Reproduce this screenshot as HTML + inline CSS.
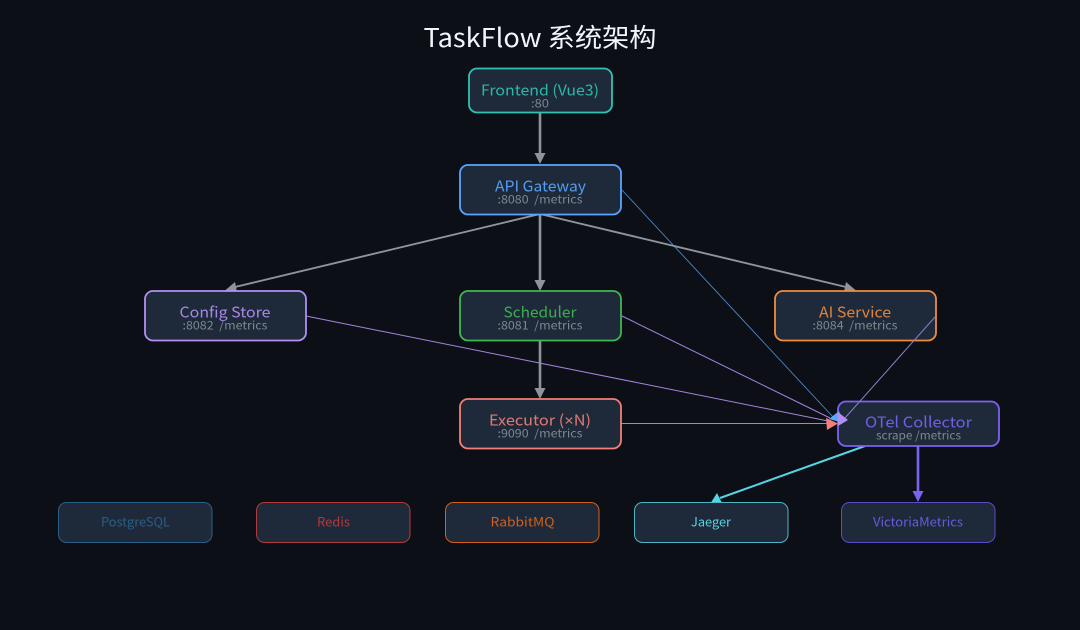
<!DOCTYPE html>
<html>
<head>
<meta charset="utf-8">
<style>
html,body{margin:0;padding:0;background:#0c1016;width:1080px;height:630px;overflow:hidden}
svg{display:block;filter:blur(0.35px)}
text{font-family:"Noto Sans CJK SC","Liberation Sans",sans-serif;text-anchor:middle}
.m{font-size:15px;opacity:.92}
.s{font-size:11.5px;fill:#7f8790}
.b{font-size:12.5px}
</style>
</head>
<body>
<svg width="1080" height="630" viewBox="0 0 1080 630" xmlns="http://www.w3.org/2000/svg">
<rect width="1080" height="630" fill="#0c1016"/>
<text x="540" y="47" font-size="26" fill="#f0f6fc" textLength="233" lengthAdjust="spacingAndGlyphs">TaskFlow 系统架构</text>

<g fill="none">
<line x1="622" y1="190" x2="833" y2="417" stroke="#4a86c8" stroke-width="0.900"/>
<line x1="306" y1="316" x2="828" y2="421" stroke="#a384e0" stroke-width="1"/>
<line x1="622" y1="316" x2="830" y2="418" stroke="#a384e0" stroke-width="1"/>
<line x1="621" y1="423.500" x2="828" y2="423.500" stroke="#e8746e" stroke-width="1"/>
<line x1="540" y1="112" x2="540" y2="155" stroke="#8f949b" stroke-width="2.600"/>
<line x1="540" y1="214" x2="540" y2="281" stroke="#8f949b" stroke-width="2.600"/>
<line x1="540" y1="340" x2="540" y2="389" stroke="#8f949b" stroke-width="2.600"/>
<line x1="540" y1="214" x2="235" y2="287" stroke="#8f949b" stroke-width="1.900"/>
<line x1="540" y1="214" x2="846" y2="287" stroke="#8f949b" stroke-width="1.900"/>
<line x1="865" y1="446" x2="720" y2="498" stroke="#56d4e4" stroke-width="2"/>
<line x1="918" y1="446" x2="918" y2="493" stroke="#7a63f2" stroke-width="2.600"/>
</g>

<polygon points="534.500,153 545.500,153 540,164" fill="#8f949b"/>
<polygon points="534.500,280 545.500,280 540,291" fill="#8f949b"/>
<polygon points="534.500,388 545.500,388 540,399" fill="#8f949b"/>
<polygon points="225,290.500 235,282 237,292" fill="#8f949b"/>
<polygon points="856,290.500 846,282 844,292" fill="#8f949b"/>
<polygon points="711,502.500 717,493 722,503" fill="#56d4e4"/>
<polygon points="912.500,491 923.500,491 918,502" fill="#7a63f2"/>

<g fill="#1e2a3a" stroke-width="1.800">
<rect x="469" y="68.500" width="143" height="44" rx="8" stroke="#2ec4b0"/>
<rect x="460" y="165" width="161" height="49.500" rx="8" stroke="#58a6ff"/>
<rect x="145" y="291" width="161" height="49.500" rx="8" stroke="#b48ef5"/>
<rect x="460" y="291" width="161" height="49.500" rx="8" stroke="#3fb950"/>
<rect x="775" y="291" width="161" height="49.500" rx="8" stroke="#f08c3c"/>
<rect x="460" y="399" width="161" height="49.500" rx="8" stroke="#f47f78"/>
<rect x="838" y="401.500" width="161" height="44.500" rx="8" stroke="#7a63f2"/>
</g>
<g fill="#1e2a3a" stroke-width="1">
<rect x="58.500" y="502.500" width="153.500" height="40" rx="8" stroke="#2a5f87"/>
<rect x="256.500" y="502.500" width="153.500" height="40" rx="8" stroke="#b33a3a"/>
<rect x="445.500" y="502.500" width="153.500" height="40" rx="8" stroke="#d2601a"/>
<rect x="634.500" y="502.500" width="153.500" height="40" rx="8" stroke="#4bb8c8"/>
<rect x="841.500" y="502.500" width="153.500" height="40" rx="8" stroke="#5a4bc8"/>
</g>

<line x1="935" y1="317" x2="845" y2="418" stroke="#8f7cc8" stroke-width="1"/>
<polygon points="826,418 838,423.500 827,430" fill="#f47f78"/>
<polygon points="829,419 839,411 843,423" fill="#58a6ff"/>
<polygon points="838,412 848,420 838,426" fill="#b48ef5"/>

<text class="m" x="540" y="95.500" fill="#2ec4b0" textLength="118" lengthAdjust="spacingAndGlyphs">Frontend (Vue3)</text>
<text class="s" x="540" y="107.500" textLength="18" lengthAdjust="spacingAndGlyphs">:80</text>
<text class="m" x="540.500" y="191.500" fill="#58a6ff" textLength="91" lengthAdjust="spacingAndGlyphs">API Gateway</text>
<text class="s" x="540" y="203.500" textLength="85" lengthAdjust="spacingAndGlyphs" xml:space="preserve">:8080  /metrics</text>
<text class="m" x="225" y="317.500" fill="#b48ef5" textLength="91" lengthAdjust="spacingAndGlyphs">Config Store</text>
<text class="s" x="225" y="329.500" textLength="85" lengthAdjust="spacingAndGlyphs" xml:space="preserve">:8082  /metrics</text>
<text class="m" x="540" y="317.500" fill="#3fb950" textLength="73" lengthAdjust="spacingAndGlyphs">Scheduler</text>
<text class="s" x="540" y="329.500" textLength="85" lengthAdjust="spacingAndGlyphs" xml:space="preserve">:8081  /metrics</text>
<text class="m" x="855" y="317.500" fill="#f08c3c" textLength="72" lengthAdjust="spacingAndGlyphs">AI Service</text>
<text class="s" x="855" y="329.500" textLength="85" lengthAdjust="spacingAndGlyphs" xml:space="preserve">:8084  /metrics</text>
<text class="m" x="540" y="425.500" fill="#f47f78" textLength="102" lengthAdjust="spacingAndGlyphs">Executor (<tspan font-family="Liberation Sans">×</tspan>N)</text>
<text class="s" x="540" y="437.500" textLength="85" lengthAdjust="spacingAndGlyphs" xml:space="preserve">:9090  /metrics</text>
<text class="m" x="918.500" y="427.500" fill="#7a63f2" textLength="107" lengthAdjust="spacingAndGlyphs">OTel Collector</text>
<text class="s" x="918.500" y="439.500" textLength="85" lengthAdjust="spacingAndGlyphs">scrape /metrics</text>

<text class="b" x="135.500" y="526.500" fill="#2a5f87" textLength="69" lengthAdjust="spacingAndGlyphs">PostgreSQL</text>
<text class="b" x="333.500" y="526.500" fill="#b33a3a" textLength="33" lengthAdjust="spacingAndGlyphs">Redis</text>
<text class="b" x="522.500" y="526.500" fill="#d2601a" textLength="64" lengthAdjust="spacingAndGlyphs">RabbitMQ</text>
<text class="b" x="711" y="526.500" fill="#56d4e4" textLength="40" lengthAdjust="spacingAndGlyphs">Jaeger</text>
<text class="b" x="918" y="526.500" fill="#6a58e0" textLength="90" lengthAdjust="spacingAndGlyphs">VictoriaMetrics</text>
</svg>
</body>
</html>
